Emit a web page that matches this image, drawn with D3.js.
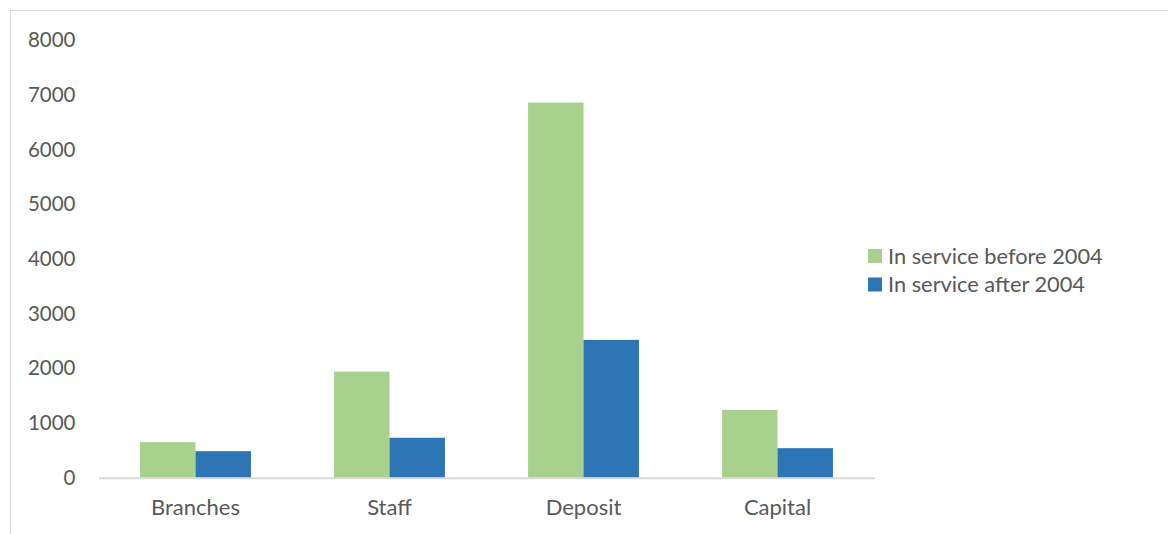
<!DOCTYPE html>
<html>
<head>
<meta charset="utf-8">
<script src="https://cdn.jsdelivr.net/npm/d3@7"></script>
<style>
  html, body { margin: 0; padding: 0; background: #fff; }
  svg { display: block; }
  text { font-family: Lato, "Open Sans", sans-serif; fill: #595959; }
</style>
</head>
<body>
<svg id="chart" width="1168" height="534"></svg>
<script>
// Categories and the two series
const categories = ["Branches", "Staff", "Deposit", "Capital"];
const seriesNames = ["In service before 2004", "In service after 2004"];
const before2004 = [650, 1940, 6860, 1240];
const after2004 = [485, 730, 2520, 540];
const yTicks = [0, 1000, 2000, 3000, 4000, 5000, 6000, 7000, 8000];
const colors = ["#A9D18E", "#2E75B6"];

const svg = d3.select("#chart");
const W = 1168, H = 534;

// chart area frame
svg.append("rect")
  .attr("x", 10.5).attr("y", 10.5)
  .attr("width", W + 20).attr("height", H + 20)
  .attr("fill", "none").attr("stroke", "#D9D9D9").attr("stroke-width", 1);

const plot = { left: 98.5, right: 874.5, top: 40.2, bottom: 477.7 };

const x = d3.scaleBand()
  .domain(categories)
  .range([plot.left, plot.right])
  .paddingInner(0).paddingOuter(0);

// two bars per category with a 150% gap between groups
const barW = x.bandwidth() / 3.5;
const x1 = d3.scaleBand()
  .domain(d3.range(seriesNames.length))
  .range([0, barW * 2]);

const y = d3.scaleLinear()
  .domain([0, 8000])
  .range([plot.bottom, plot.top]);

const rows = categories.map((c, i) => ({ cat: c, vals: [before2004[i], after2004[i]] }));

const groups = svg.append("g").selectAll("g")
  .data(rows)
  .join("g")
  .attr("transform", d => `translate(${x(d.cat) + (x.bandwidth() - barW * 2) / 2},0)`);

groups.selectAll("rect")
  .data(d => d.vals.map((v, k) => ({ v, k })))
  .join("rect")
  .attr("x", d => x1(d.k))
  .attr("y", d => y(d.v))
  .attr("width", x1.bandwidth())
  .attr("height", d => y(0) - y(d.v))
  .attr("fill", d => colors[d.k]);

// value axis: labels only
const yAxis = svg.append("g")
  .attr("transform", `translate(${75.5},0)`)
  .call(d3.axisLeft(y).tickValues(yTicks).tickSize(0).tickPadding(0).tickFormat(d3.format("d")));
yAxis.select(".domain").remove();
yAxis.selectAll("text")
  .attr("font-size", 20.5)
  .attr("font-family", "Lato, 'Open Sans', sans-serif")
  .attr("fill", "#595959");

// category axis
const xAxis = svg.append("g")
  .attr("transform", `translate(0,${plot.bottom})`)
  .call(d3.axisBottom(x).tickSize(0).tickPadding(22));
xAxis.select(".domain")
  .attr("stroke", "#D9D9D9").attr("stroke-width", 2);
xAxis.selectAll("text")
  .attr("font-size", 22)
  .attr("font-family", "Lato, 'Open Sans', sans-serif")
  .attr("fill", "#595959");

// legend
const legend = svg.append("g").attr("transform", "translate(868,249)");
const items = legend.selectAll("g")
  .data(seriesNames)
  .join("g")
  .attr("transform", (d, i) => `translate(0,${i * 28.5})`);
items.append("rect")
  .attr("width", 14).attr("height", 14)
  .attr("fill", (d, i) => colors[i]);
items.append("text")
  .attr("x", 20).attr("y", 7)
  .attr("dy", "0.35em")
  .attr("font-size", 21.8)
  .text(d => d);
</script>
</body>
</html>
